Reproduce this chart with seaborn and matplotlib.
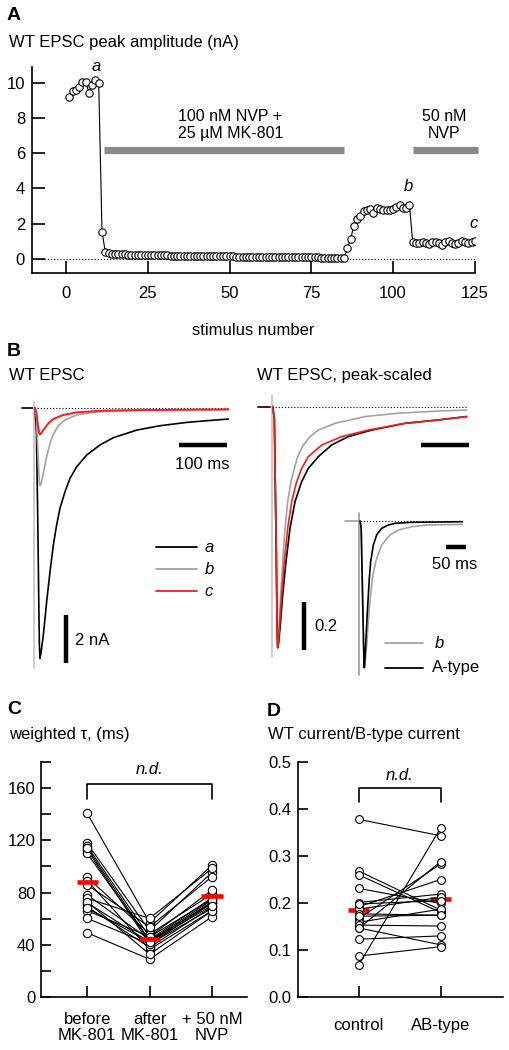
import matplotlib
matplotlib.use("Agg")
import matplotlib.pyplot as plt
import numpy as np
import pandas as pd
import seaborn as sns

# ======================= DATA =======================
# Panel A: WT EPSC peak amplitude (nA) per stimulus
amp_control = [9.17, 9.56, 9.60, 9.75, 10.07, 10.07, 9.45, 9.89, 10.17, 9.98]
amp_mk801 = [1.55, 0.41, 0.33, 0.30, 0.28, 0.27, 0.26, 0.26, 0.25, 0.25,
             0.24, 0.24, 0.23, 0.23, 0.23, 0.22, 0.22, 0.21, 0.21, 0.20,
             0.20, 0.19, 0.19, 0.19, 0.18, 0.18, 0.18, 0.17, 0.17, 0.17,
             0.16, 0.16, 0.16, 0.15, 0.15, 0.15, 0.15, 0.14, 0.14, 0.14,
             0.14, 0.13, 0.13, 0.13, 0.13, 0.12, 0.12, 0.12, 0.12, 0.12,
             0.11, 0.11, 0.11, 0.11, 0.11, 0.10, 0.10, 0.10, 0.10, 0.10,
             0.10, 0.09, 0.09, 0.09, 0.09, 0.09, 0.09, 0.08, 0.08, 0.08,
             0.08, 0.08, 0.08, 0.07, 0.07]
amp_washout = [0.60, 1.12, 1.87, 2.25, 2.46, 2.73, 2.78, 2.82, 2.60, 2.88,
               2.82, 2.78, 2.78, 2.75, 2.82, 2.94, 3.07, 2.88, 2.90, 3.07]
amp_nvp50 = [0.95, 0.92, 0.90, 0.95, 0.92, 0.85, 0.95, 0.98, 0.92, 0.80,
             0.95, 1.00, 0.90, 0.85, 0.92, 1.00, 0.95, 0.90, 0.95, 1.04]
stim_amp = amp_control + amp_mk801 + amp_washout + amp_nvp50
stim_num = list(range(1, len(stim_amp) + 1))
drug_start = [11.6, 106.0]
drug_end = [85.0, 126.0]
drug_labels = ["100 nM NVP +\n25 \u00b5M MK-801", "50 nM\nNVP"]

# Panel B left: raw traces (ms, nA)
a_t = [0, 3, 6, 8, 9.2, 10.4, 12.5, 17.4, 24.3, 31.3, 38.2, 45.1, 52, 62.5, 72.9, 86.8,
       107.6, 135.4, 163, 212, 260, 316, 357.6, 403]
a_v = [0, -1.0, -5.0, -8.3, -9.9, -10.43, -10.2, -9.46, -8.07, -6.82, -5.71, -4.87, -4.18,
       -3.49, -2.93, -2.45, -1.96, -1.54, -1.24, -0.92, -0.74, -0.60, -0.53, -0.46]
b_t = [0, 3, 6, 8, 9.2, 10.4, 12.5, 17.4, 24.3, 31.3, 38.2, 48.6, 62.5, 86.8, 121.5, 177, 246, 403]
b_v = [0, -0.4, -1.8, -2.7, -3.15, -3.24, -3.15, -2.72, -2.03, -1.47, -1.10, -0.74, -0.50,
       -0.29, -0.18, -0.11, -0.08, -0.06]
c_t = [0, 3, 6, 8, 9.2, 10.4, 12.5, 17.4, 27.8, 38.2, 59, 86.8, 142, 246, 403]
c_v = [0, -0.2, -0.7, -0.95, -1.07, -1.10, -1.06, -0.92, -0.64, -0.46, -0.29, -0.18, -0.11,
       -0.08, -0.06]

# Panel B right: peak-scaled traces
sa_t = [0, 3.4, 7.5, 9.2, 10.4, 12.2, 15.2, 20.8, 27.7, 36.0, 46.5, 60.3, 74.2, 95.1, 122.9,
        157.6, 206.2, 275.6, 345.1, 404.1]
sa_v = [0, -0.05, -0.62, -0.93, -1.0, -0.98, -0.92, -0.78, -0.643, -0.505, -0.394, -0.311,
        -0.256, -0.207, -0.159, -0.124, -0.097, -0.069, -0.055, -0.041]
sc_t = [0, 3.4, 7.5, 9.2, 10.4, 11.9, 13.8, 18.7, 24.2, 31.2, 39.5, 49.9, 60.3, 74.2, 102,
        143.7, 199.2, 275.6, 345.1, 404.1]
sc_v = [0, -0.05, -0.62, -0.93, -1.0, -0.98, -0.92, -0.78, -0.643, -0.505, -0.394, -0.311,
        -0.256, -0.207, -0.159, -0.124, -0.097, -0.069, -0.055, -0.041]
sb_t = [0, 3.4, 7.5, 9.2, 10.4, 11.7, 13.1, 16.6, 20.8, 25.6, 31.2, 38.1, 45.1, 52.0, 63.8,
        77.7, 95.1, 129.8, 192.3, 261.7, 345.1, 404.1]
sb_v = [0, -0.05, -0.62, -0.93, -1.0, -0.98, -0.92, -0.78, -0.643, -0.505, -0.394, -0.311,
        -0.256, -0.207, -0.159, -0.124, -0.097, -0.069, -0.041, -0.027, -0.018, -0.014]

# Inset: b vs A-type (peak-scaled)
ib_t = [0, 3, 8, 10, 11, 12.8, 17.0, 22.9, 31.4, 39.9, 55.1, 76.3, 97.5, 131.5, 173.9, 260.4]
ib_v = [0, -0.05, -0.7, -0.96, -1.0, -0.97, -0.845, -0.618, -0.391, -0.277, -0.164,
        -0.095, -0.061, -0.039, -0.027, -0.023]
iA_t = [0, 3, 8, 10, 11, 12.3, 14.4, 18.7, 23.7, 27.1, 33.9, 42.4, 55.1, 72.1, 89.1,
        131.5, 260.4]
iA_v = [0, -0.05, -0.7, -0.96, -1.0, -0.95, -0.845, -0.618, -0.391, -0.277, -0.164,
        -0.095, -0.050, -0.027, -0.016, -0.009, -0.005]

# Panel C: weighted tau (ms), paired per cell
tau_conditions = ["before\nMK-801", "after\nMK-801", "+ 50 nM\nNVP"]
tau_before = [140.6, 117.7, 115.6, 112.6, 110.0, 91.6, 89.1, 85.8, 78.1,
              75.6, 72.2, 69.1, 66.1, 60.2, 49.2, 114.0, 73.0, 68.0]
tau_after = [57.0, 50.8, 46.0, 40.6, 43.0, 48.2, 36.5, 53.8, 44.0,
             60.2, 42.0, 38.0, 46.2, 40.6, 28.9, 43.1, 32.7, 42.0]
tau_nvp = [101.0, 95.5, 75.0, 71.7, 72.0, 78.9, 66.1, 92.1, 76.0,
           98.5, 73.0, 69.1, 81.9, 68.0, 61.5, 74.3, 66.0, 70.0]

# Panel D: WT current / B-type current, paired
ratio_conditions = ["control", "AB-type"]
ratio_control = [0.378, 0.268, 0.260, 0.231, 0.201, 0.192, 0.187, 0.177, 0.167,
                 0.159, 0.153, 0.172, 0.146, 0.147, 0.123, 0.087, 0.068, 0.198]
ratio_ab = [0.343, 0.185, 0.180, 0.199, 0.219, 0.250, 0.212, 0.174, 0.283,
            0.187, 0.151, 0.174, 0.288, 0.111, 0.130, 0.107, 0.360, 0.205]

# ======================= STYLE =======================
sns.set_theme(style="ticks")
plt.rcParams["font.family"] = ["Liberation Sans", "DejaVu Sans"]
for k in ["text.color", "axes.labelcolor", "xtick.color", "ytick.color", "axes.edgecolor"]:
    plt.rcParams[k] = "black"

W, H = 510, 1050
fig = plt.figure(figsize=(W / 100, H / 100), dpi=100)
fig.patch.set_facecolor("white")


def rect(l, t, r, b):
    return [l / W, 1 - b / H, (r - l) / W, (b - t) / H]


def ftext(x, y, s, **kw):
    fig.text(x / W, 1 - y / H, s, **kw)


FS = 12
GRAY = "#a3a3a3"
RED = "#ff1a1a"
DOT = (0, (1, 1.8))

# ======================= PANEL A =======================
axA = fig.add_axes(rect(32, 67, 475.5, 273))
sns.lineplot(x=stim_num, y=stim_amp, ax=axA, color="black", lw=0.8,
             marker="o", markersize=5.3, markerfacecolor="white",
             markeredgecolor="black", markeredgewidth=0.8, zorder=3)
axA.plot([-9.5, 125], [0, 0], color="black", lw=0.8, ls=DOT, zorder=1)
axA.hlines([6.16] * len(drug_start), drug_start, drug_end, color="#8a8a8a",
           lw=5.2, capstyle="butt", clip_on=False)
axA.text(50.2, 7.62, drug_labels[0], ha="center", va="center", fontsize=11.5,
         linespacing=1.15)
axA.text(115.5, 7.62, drug_labels[1], ha="center", va="center", fontsize=11.5,
         linespacing=1.15)
axA.text(9.2, 10.95, "a", style="italic", ha="center", va="center", fontsize=12)
axA.text(104.6, 4.1, "b", style="italic", ha="center", va="center", fontsize=12)
axA.text(124.5, 2.0, "c", style="italic", ha="center", va="center", fontsize=12)
axA.set_xlim(-10.4, 125.2)
axA.set_ylim(-0.8, 10.9)
axA.set_xticks([0, 25, 50, 75, 100, 125])
axA.set_yticks([0, 2, 4, 6, 8, 10])
axA.tick_params(axis="x", direction="in", length=9, width=1.2, pad=9, labelsize=FS)
axA.tick_params(axis="y", direction="in", length=9, width=1.2, pad=5, labelsize=FS)
sns.despine(ax=axA)
for s in ["left", "bottom"]:
    axA.spines[s].set_linewidth(1.2)
axA.set_xlabel("stimulus number", fontsize=FS, labelpad=16)
axA.set_ylabel("")
ftext(7, 15, "A", fontsize=14, fontweight="bold", va="center")
ftext(9, 43, "WT EPSC peak amplitude (nA)", fontsize=FS, va="center")

# ======================= PANEL B (left) =======================
axBL = fig.add_axes(rect(20, 395, 235, 680))
axBL.axis("off")
axBL.set_xlim(-31.25, 416.67)
axBL.set_ylim(-11.333, 0.5417)
axBL.plot([-2, 403], [0, 0], color="black", lw=0.8, ls=DOT)
axBL.plot([-27.7, -3.5], [0, 0], color="#222222", lw=1.4)
axBL.plot([-2, -2], [0.26, -10.85], color="#c8c8c8", lw=1.3)
sns.lineplot(x=a_t, y=a_v, sort=False, estimator=None, color="black", lw=1.2, ax=axBL)
sns.lineplot(x=b_t, y=b_v, sort=False, estimator=None, color=GRAY, lw=1.2, ax=axBL)
sns.lineplot(x=c_t, y=c_v, sort=False, estimator=None, color=RED, lw=1.4, ax=axBL)
axBL.plot([299, 399], [-1.54, -1.54], color="black", lw=3.2, solid_capstyle="butt")
axBL.text(349, -2.35, "100 ms", ha="center", va="center", fontsize=FS)
axBL.plot([64.6, 64.6], [-10.62, -8.62], color="black", lw=3.2, solid_capstyle="butt")
axBL.text(83, -9.67, "2 nA", ha="left", va="center", fontsize=FS)
for yy, col, lab in [(-5.80, "black", "a"), (-6.71, GRAY, "b"), (-7.625, RED, "c")]:
    axBL.plot([252, 337], [yy, yy], color=col, lw=1.3)
    axBL.text(354, yy, lab, style="italic", ha="left", va="center", fontsize=FS)
ftext(7, 351, "B", fontsize=14, fontweight="bold", va="center")
ftext(9, 376, "WT EPSC", fontsize=FS, va="center")

# ======================= PANEL B (right) =======================
axBR = fig.add_axes(rect(255, 395, 475, 680))
axBR.axis("off")
axBR.set_xlim(-36.9, 421.5)
axBR.set_ylim(-1.134, 0.0485)
axBR.plot([-2, 402], [0, 0], color="black", lw=0.8, ls=DOT)
axBR.plot([-30.6, -5.6], [0, 0], color="#551111", lw=1.4)
axBR.plot([-2, -2], [0.049, -1.04], color="#c8c8c8", lw=1.3)
sns.lineplot(x=sb_t, y=sb_v, sort=False, estimator=None, color=GRAY, lw=1.2, ax=axBR)
sns.lineplot(x=sa_t, y=sa_v, sort=False, estimator=None, color="black", lw=1.2, ax=axBR)
sns.lineplot(x=sc_t, y=sc_v, sort=False, estimator=None, color=RED, lw=1.2, ax=axBR)
axBR.plot([308, 408], [-0.159, -0.159], color="black", lw=3.2, solid_capstyle="butt")
axBR.plot([65.8, 65.8], [-1.01, -0.81], color="black", lw=3.2, solid_capstyle="butt")
axBR.text(86.7, -0.91, "0.2", ha="left", va="center", fontsize=FS)
ftext(257, 376, "WT EPSC, peak-scaled", fontsize=FS, va="center")

# Inset
axIn = fig.add_axes(rect(340, 505, 480, 680))
axIn.axis("off")
axIn.patch.set_alpha(0)
axIn.set_xlim(-50.9, 305.3)
axIn.set_ylim(-1.084, 0.109)
axIn.plot([-1, 260], [0, 0], color="black", lw=0.8, ls=DOT)
axIn.plot([-38.2, -3.5], [0, 0], color=GRAY, lw=1.3)
axIn.plot([-2.5, -2.5], [0.052, -1.05], color=GRAY, lw=1.3)
sns.lineplot(x=ib_t, y=ib_v, sort=False, estimator=None, color=GRAY, lw=1.2, ax=axIn)
sns.lineplot(x=iA_t, y=iA_v, sort=False, estimator=None, color="black", lw=1.2, ax=axIn)
axIn.plot([219, 269], [-0.177, -0.177], color="black", lw=3.2, solid_capstyle="butt")
axIn.text(241.7, -0.30, "50 ms", ha="center", va="center", fontsize=FS)
axIn.plot([63.6, 161], [-0.834, -0.834], color=GRAY, lw=1.3)
axIn.text(190.8, -0.834, "b", style="italic", ha="left", va="center", fontsize=FS)
axIn.plot([63.6, 161], [-1.0, -1.0], color="black", lw=1.3)
axIn.text(182.4, -1.0, "A-type", ha="left", va="center", fontsize=FS)

# ======================= PANEL C =======================
n_c = len(tau_before)
dfC = pd.DataFrame({
    "cell": list(range(n_c)) * 3,
    "pos": [0] * n_c + [1] * n_c + [2] * n_c,
    "tau": tau_before + tau_after + tau_nvp,
})
axC = fig.add_axes(rect(41, 762, 247, 997))
sns.lineplot(data=dfC, x="pos", y="tau", units="cell", estimator=None,
             color="black", lw=0.8, marker="o", markersize=6,
             markerfacecolor="white", markeredgecolor="black",
             markeredgewidth=0.8, ax=axC)
mC = dfC.groupby("pos")["tau"].mean()
axC.hlines(mC.values, mC.index - 0.17, mC.index + 0.17, color="red", lw=3.3,
           zorder=6, capstyle="butt")
axC.plot([0, 0, 2, 2], [152, 163, 163, 152], color="black", lw=1.2)
axC.text(1, 174, "n.d.", style="italic", ha="center", va="center", fontsize=FS)
axC.set_xlim(-0.74, 2.56)
axC.set_ylim(0, 180)
axC.set_xticks([0, 1, 2])
axC.set_xticklabels(tau_conditions, linespacing=1.1)
axC.set_yticks([0, 40, 80, 120, 160])
axC.set_yticks([20, 60, 100, 140, 180], minor=True)
axC.tick_params(axis="x", direction="in", length=8, width=1.2, pad=11, labelsize=FS)
axC.tick_params(axis="y", which="both", direction="in", length=7, width=1.2,
                pad=4, labelsize=FS)
sns.despine(ax=axC)
for s in ["left", "bottom"]:
    axC.spines[s].set_linewidth(1.2)
axC.set_xlabel("")
axC.set_ylabel("")
ftext(7, 709, "C", fontsize=14, fontweight="bold", va="center")
ftext(9, 735, "weighted \u03c4, (ms)", fontsize=FS, va="center")

# ======================= PANEL D =======================
n_d = len(ratio_control)
dfD = pd.DataFrame({
    "cell": list(range(n_d)) * 2,
    "pos": [0] * n_d + [1] * n_d,
    "ratio": ratio_control + ratio_ab,
})
axD = fig.add_axes(rect(298, 762, 503, 997))
sns.lineplot(data=dfD, x="pos", y="ratio", units="cell", estimator=None,
             color="black", lw=0.8, marker="o", markersize=5.6,
             markerfacecolor="white", markeredgecolor="black",
             markeredgewidth=0.8, ax=axD)
mD = dfD.groupby("pos")["ratio"].mean()
axD.hlines(mD.values, mD.index - 0.13, mD.index + 0.13, color="red", lw=3.3,
           zorder=1.5, capstyle="butt")
axD.plot([0, 0, 1, 1], [0.415, 0.445, 0.445, 0.415], color="black", lw=1.2)
axD.text(0.5, 0.472, "n.d.", style="italic", ha="center", va="center", fontsize=FS)
axD.set_xlim(-0.74, 1.76)
axD.set_ylim(0, 0.5)
axD.set_xticks([0, 1])
axD.set_xticklabels(ratio_conditions)
axD.set_yticks([0, 0.1, 0.2, 0.3, 0.4, 0.5])
axD.set_yticklabels(["0.0", "0.1", "0.2", "0.3", "0.4", "0.5"])
axD.tick_params(axis="x", direction="in", length=8, width=1.2, pad=15, labelsize=FS)
axD.tick_params(axis="y", direction="in", length=7, width=1.2, pad=5, labelsize=FS)
sns.despine(ax=axD)
for s in ["left", "bottom"]:
    axD.spines[s].set_linewidth(1.2)
axD.set_xlabel("")
axD.set_ylabel("")
ftext(267, 711, "D", fontsize=14, fontweight="bold", va="center")
ftext(268, 735, "WT current/B-type current", fontsize=FS, va="center")

fig.savefig("out.png", dpi=100, facecolor="white")
